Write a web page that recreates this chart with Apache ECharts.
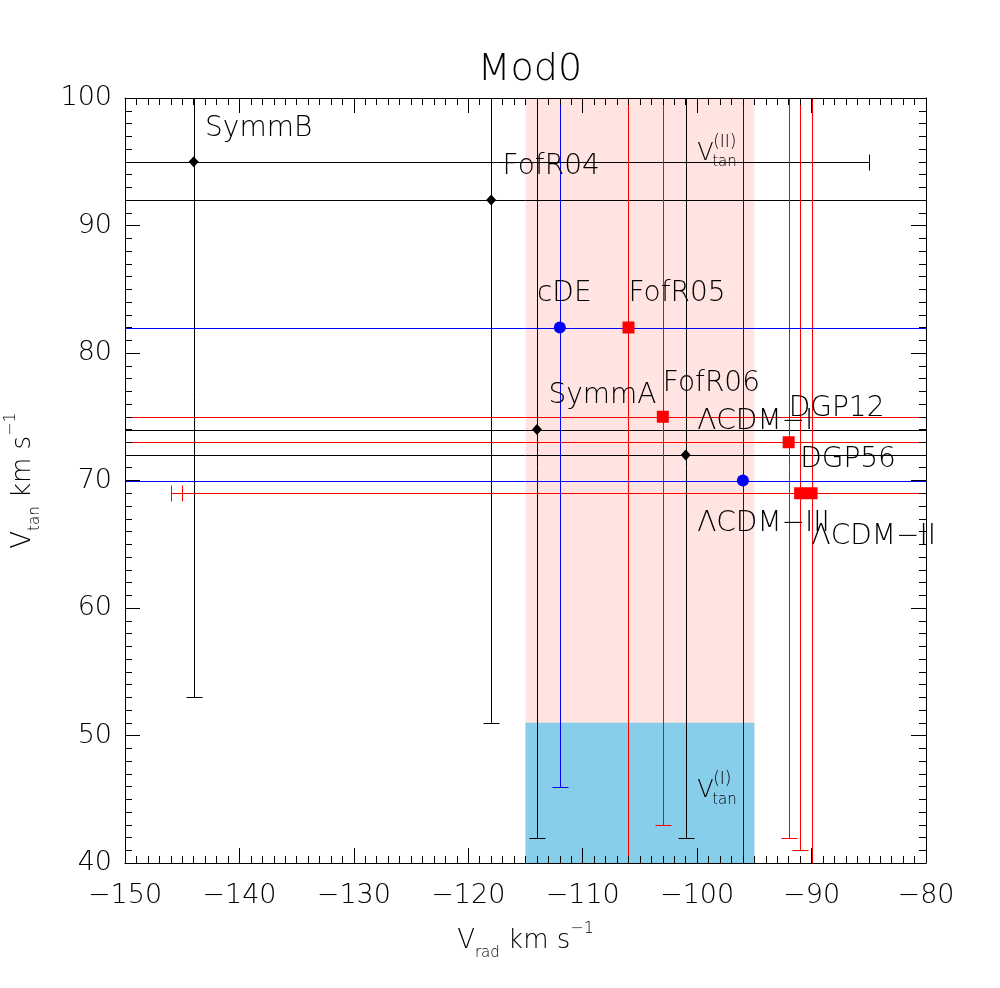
<!DOCTYPE html>
<html>
<head>
<meta charset="utf-8">
<script src="https://cdn.jsdelivr.net/npm/echarts@6/dist/echarts.min.js"></script>
<style>
  html, body { margin: 0; padding: 0; background: #fff; }
  #chart { width: 1000px; height: 988px; }
</style>
</head>
<body>
<div id="chart"></div>
<script>
// points, grouped by colour: black diamonds, red squares, blue circles
const names  = ['SymmB', 'FofR04', 'SymmA', 'ΛCDM−I', 'FofR05', 'FofR06', 'DGP12', 'DGP56', 'ΛCDM−II', 'cDE', 'ΛCDM−III'];
const group  = [0, 0, 0, 0, 1, 1, 1, 1, 1, 2, 2];
const vrad   = [-144, -118, -114, -101, -106, -103, -92, -91, -90, -112, -96];
const vtan   = [95, 92, 74, 72, 82, 75, 73, 69, 69, 82, 70];
const vtanLo = [53, 51, 42, 42, 36, 43, 42, 41, 37, 46, 36];
const vtanHi = [137, 133, 106, 102, 128, 107, 104, 110, 110, 118, 104];
const vradLo = [-203, -160, -160, -160, -160, -160, -160, -146, -145, -160, -160];
const vradHi = [-85, -76, -60, -60, -60, -60, -60, -36, -35, -60, -60];
// where each name is written (left end of text, baseline)
const labelX = [-143, -117, -113, -100, -106, -103, -92, -91, -90, -114, -100];
const labelY = [97, 94, 76, 74, 84, 77, 75, 71, 65, 84, 66];

// shaded ranges
const bandX = [-115, -95];
const pinkY = [40, 100];
const blueY = [40, 51];

// V_tan annotations
const annX = [-100, -100];
const annY = [95, 45];
const annSup = ['(II)', '(I)'];

const xTicks = { min: -150, max: -80, step: 10 };
const yTicks = { min: 40, max: 100, step: 10 };

const colors = ['#000000', '#ff0000', '#0000ff'];
const symbols = ['diamond', 'rect', 'circle'];
const symbolSizes = [[10, 11], 12, 12];
const FONT = 'DejaVu Sans';
const WEIGHT = 200;

const errData = names.map((n, i) => [vrad[i], vtan[i], vradLo[i], vradHi[i], vtanLo[i], vtanHi[i], group[i]]);

// snap to pixel centres so 1px lines stay crisp
const px = v => Math.round(v) + 0.5;

function line(x1, y1, x2, y2, c) {
  return { type: 'line', shape: { x1: px(x1), y1: px(y1), x2: px(x2), y2: px(y2) }, style: { stroke: c, lineWidth: 1 } };
}

const chart = echarts.init(document.getElementById('chart'));

function axisCommon(extra) {
  return Object.assign({
    type: 'value',
    z: 10,
    axisLine: { show: true, lineStyle: { color: '#000', width: 1 } },
    axisTick: { show: true, inside: true, length: 15, lineStyle: { color: '#000' } },
    minorTick: { show: true, splitNumber: 10, length: 7, lineStyle: { color: '#000' } },
    splitLine: { show: false },
    minorSplitLine: { show: false }
  }, extra);
}

const nameRich = {
  v: { fontSize: 26, fontFamily: FONT, fontWeight: WEIGHT, color: '#000', lineHeight: 40 },
  s: { fontSize: 15, fontFamily: FONT, fontWeight: WEIGHT, color: '#000', verticalAlign: 'bottom', lineHeight: 16 },
  p: { fontSize: 16, fontFamily: FONT, fontWeight: WEIGHT, color: '#000', verticalAlign: 'top', lineHeight: 16 }
};

const tickLabel = { fontSize: 27, fontFamily: FONT, fontWeight: WEIGHT, color: '#000' };

const option = {
  animation: false,
  backgroundColor: '#fff',
  title: {
    text: 'Mod0',
    left: 525,
    top: 46,
    textAlign: 'center',
    textStyle: { fontSize: 38, fontWeight: WEIGHT, fontFamily: FONT, color: '#000' }
  },
  grid: { left: 125, right: 74, top: 98, bottom: 125, containLabel: false, outerBoundsMode: 'none' },
  xAxis: [
    axisCommon({
      position: 'bottom', min: xTicks.min, max: xTicks.max, interval: xTicks.step,
      axisLabel: Object.assign({ margin: 19, formatter: v => (v < 0 ? '−' + Math.abs(v) : String(v)) }, tickLabel),
      name: '{v|V}{s|rad}{v| km s}{p|−1}',
      nameLocation: 'middle', nameGap: 58,
      nameTextStyle: { rich: nameRich }
    }),
    axisCommon({ position: 'top', min: xTicks.min, max: xTicks.max, interval: xTicks.step, axisLabel: { show: false } })
  ],
  yAxis: [
    axisCommon({
      position: 'left', min: yTicks.min, max: yTicks.max, interval: yTicks.step,
      axisLabel: Object.assign({ margin: 13 }, tickLabel),
      name: '{v|V}{s|tan}{v| km s}{p|−1}',
      nameLocation: 'middle', nameGap: 82, nameRotate: 90,
      nameTextStyle: { rich: nameRich }
    }),
    axisCommon({ position: 'right', min: yTicks.min, max: yTicks.max, interval: yTicks.step, axisLabel: { show: false } })
  ],
  series: [
    {
      type: 'custom',
      clip: true,
      z: 1,
      data: [[bandX[0], bandX[1], pinkY[0], pinkY[1], 0], [bandX[0], bandX[1], blueY[0], blueY[1], 1]],
      renderItem: function (params, api) {
        const a = api.coord([api.value(0), api.value(3)]);
        const b = api.coord([api.value(1), api.value(2)]);
        return {
          type: 'rect',
          shape: { x: a[0], y: a[1], width: b[0] - a[0], height: b[1] - a[1] },
          style: { fill: api.value(4) === 0 ? '#ffe4e1' : '#87ceeb' }
        };
      }
    },
    {
      type: 'custom',
      clip: true,
      z: 2,
      data: errData,
      renderItem: function (params, api) {
        const x = api.value(0), y = api.value(1);
        const c = colors[api.value(6)];
        const pl = api.coord([api.value(2), y]);
        const ph = api.coord([api.value(3), y]);
        const ql = api.coord([x, api.value(4)]);
        const qh = api.coord([x, api.value(5)]);
        const cap = 8;
        return {
          type: 'group',
          children: [
            line(pl[0], pl[1], ph[0], ph[1], c),
            line(pl[0], pl[1] - cap, pl[0], pl[1] + cap, c),
            line(ph[0], ph[1] - cap, ph[0], ph[1] + cap, c),
            line(ql[0], ql[1], qh[0], qh[1], c),
            line(ql[0] - cap, ql[1], ql[0] + cap, ql[1], c),
            line(qh[0] - cap, qh[1], qh[0] + cap, qh[1], c)
          ]
        };
      }
    }
  ].concat([0, 1, 2].map(g => ({
    type: 'scatter',
    z: 3,
    symbol: symbols[g],
    symbolSize: symbolSizes[g],
    itemStyle: { color: colors[g], opacity: 1 },
    data: names.map((n, i) => (group[i] === g ? [vrad[i], vtan[i]] : null)).filter(d => d)
  }))).concat([
    {
      type: 'custom',
      clip: false,
      z: 4,
      data: names.map((n, i) => [labelX[i], labelY[i], i]),
      renderItem: function (params, api) {
        const p = api.coord([api.value(0), api.value(1)]);
        return {
          type: 'text',
          x: p[0],
          y: p[1] + 6,
          style: { text: names[api.value(2)], fill: '#000', font: WEIGHT + ' 28px ' + FONT, align: 'left', verticalAlign: 'bottom' }
        };
      }
    },
    {
      type: 'custom',
      clip: false,
      z: 4,
      data: annX.map((x, i) => [x, annY[i], i]),
      renderItem: function (params, api) {
        const p = api.coord([api.value(0), api.value(1)]);
        const i = api.value(2);
        return {
          type: 'group',
          children: [
            { type: 'text', x: p[0], y: p[1] + 4, style: { text: 'V', fill: '#000', font: WEIGHT + ' 24px ' + FONT, verticalAlign: 'bottom' } },
            { type: 'text', x: p[0] + 16, y: p[1] - 11, style: { text: annSup[i], fill: '#000', font: WEIGHT + ' 17px ' + FONT, verticalAlign: 'bottom' } },
            { type: 'text', x: p[0] + 15, y: p[1] + 8, style: { text: 'tan', fill: '#000', font: WEIGHT + ' 15px ' + FONT, verticalAlign: 'bottom' } }
          ]
        };
      }
    }
  ])
};

chart.setOption(option);
</script>
</body>
</html>
